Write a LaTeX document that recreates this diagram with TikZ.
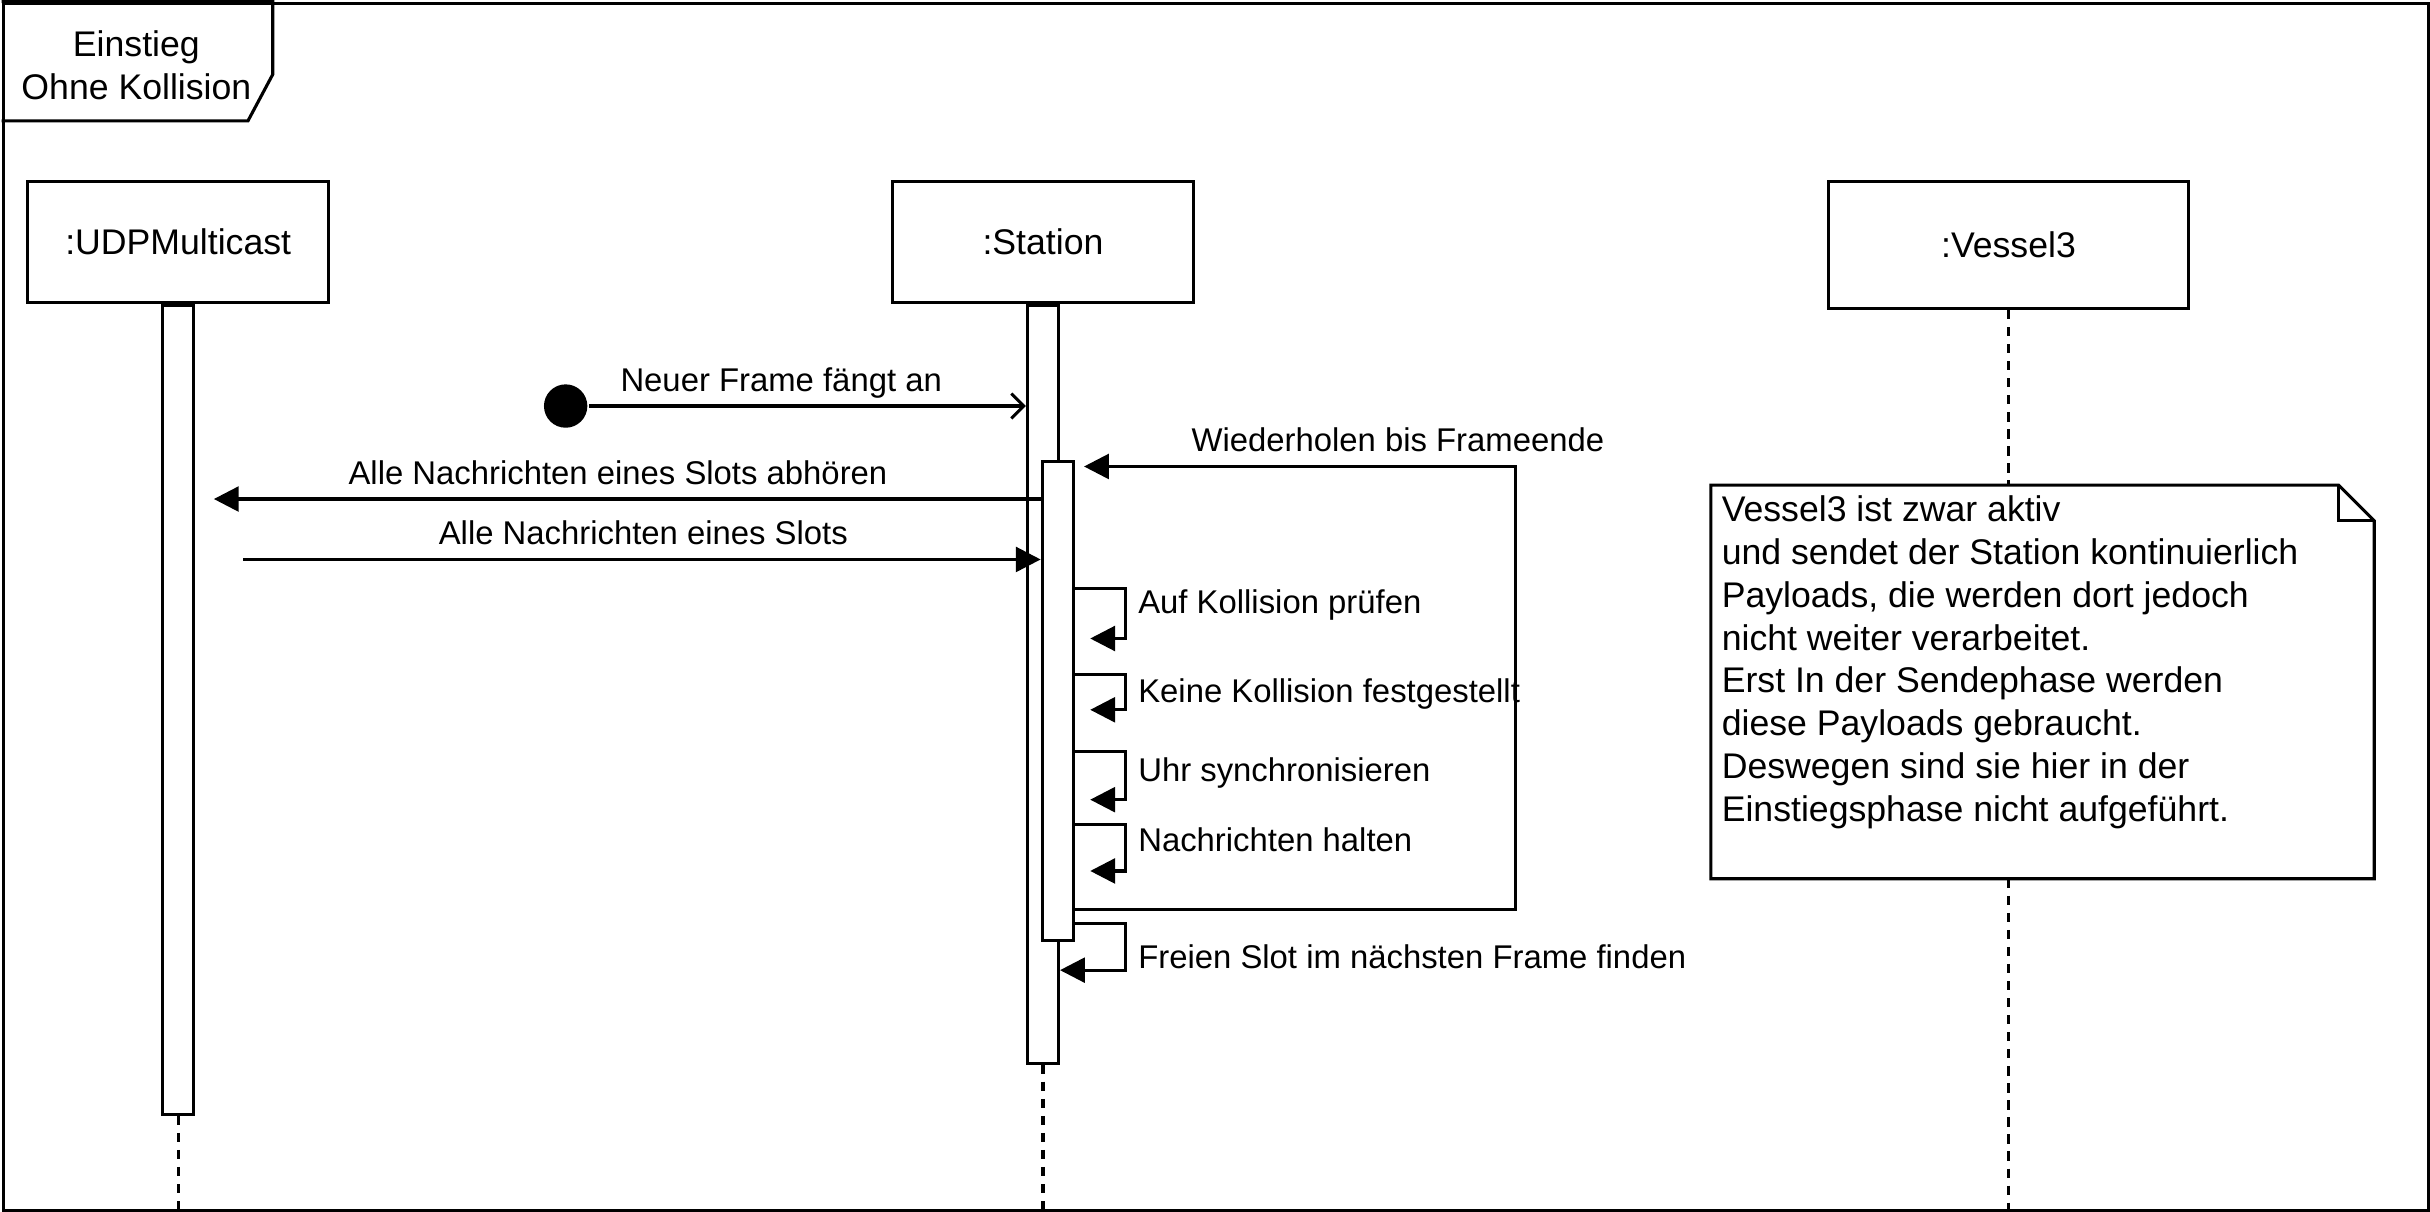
\documentclass[tikz,border=0pt]{standalone}
\usepackage{fontspec}
\setmainfont{Liberation Sans}
\usetikzlibrary{positioning,arrows.meta}

\begin{document}
\begin{tikzpicture}[x=1pt,y=-1pt,line width=2pt,
		font=\fontsize{23}{27.6}\selectfont,
		head/.style={draw, minimum width=194pt, minimum height=78pt, inner sep=0pt},
		bar/.style={draw, fill=white, minimum width=20pt, inner sep=0pt, anchor=north},
		lifeline/.style={dash pattern=on 6pt off 5pt},
		msg/.style={-{Triangle[length=16pt,width=16pt]}},
		lbl/.style={inner sep=0pt, text height=15pt, text depth=4.5pt,
				font=\fontsize{21.2}{25}\selectfont}]
		\useasboundingbox (0,0) rectangle (1568,782);

		% Frame
		\node[draw,
			minimum width=1565pt,
			minimum height=779pt,
			inner sep=0pt,
			anchor=north west
		] (frame) at (1,1) {};
		\draw (frame.north west) -| (176,48) -- (160,78) -- (frame.west |- 0,78);
		\node[align=center] (title) at (88,42) {Einstieg\\Ohne Kollision};

		% Lifelines
		\node[head] (udp) at (115,156) {:UDPMulticast};
		\node[head] (station) at (673,156) {:Station};
		\node[head,
			minimum width=232pt,
			minimum height=82pt
		] (vessel) at (1296,158) {:Vessel3};

		\node[bar, minimum height=522pt] (udpbar) at (udp.south) {};
		\node[bar, minimum height=489pt] (stbar) at (station.south) {};
		\node[bar, minimum height=309pt] (loopbar) at (682.5,297) {};

		\draw[lifeline] (udpbar.south) -- (udpbar.south |- frame.south);
		\draw[lifeline] (stbar.south) -- (stbar.south |- frame.south);

		% Note
		\node[minimum width=426pt,
			minimum height=252pt,
			anchor=north west
		] (note) at (1104,313) {};
		\draw[lifeline] (vessel.south) -- (vessel.south |- note.north);
		\draw[lifeline] (vessel.south |- note.south) -- (vessel.south |- frame.south);
		\draw[fill=white] (note.south west) -- (note.north west) -- ([xshift=-23pt]note.north east)
		-- ([yshift=-23pt]note.north east) -- (note.south east) -- cycle;
		\draw ([xshift=-23pt]note.north east) |- ([yshift=-23pt]note.north east);
		\node[align=left, inner sep=0pt, anchor=north west] (notetext)
		at ([xshift=6pt,yshift=-6pt]note.north west)
		{Vessel3 ist zwar aktiv\\und sendet der Station kontinuierlich\\Payloads, die werden dort jedoch\\nicht weiter verarbeitet.\\Erst In der Sendephase werden\\diese Payloads gebraucht.\\Deswegen sind sie hier in der\\Einstiegsphase nicht aufgeführt.};

		% Start
		\node[circle, fill, minimum size=28pt, inner sep=0pt] (start) at (365,262) {};
		\draw[-{Straight Barb[length=8pt,width=16pt]}] (start) -- (start -| stbar.west)
		node[lbl, pos=0.44, above=4pt]{Neuer Frame fängt an};

		% Messages
		\draw[msg, shorten >=12pt] (loopbar.west |- 0,322) -- (udpbar.east |- 0,322)
		node[lbl, midway, above=4pt]{Alle Nachrichten eines Slots abhören};
		\draw[msg, shorten <=31pt] (udpbar.east |- 0,361) -- (loopbar.west |- 0,361)
		node[lbl, pos=0.53, above=4pt]{Alle Nachrichten eines Slots};

		% Loop
		\coordinate (loopcorner) at (978,301);
		\draw[msg, shorten >=6pt] (loopbar.east |- 0,587) -| (loopcorner)
		node[lbl, above=4pt, xshift=-76pt]{Wiederholen bis Frameende}
		-- (loopbar.east |- loopcorner);

		% Self calls
		\foreach \ya/\yb/\dy/\txt in {380/412/10.7/Auf Kollision prüfen,
				435/458/12.9/Keine Kollision festgestellt,
				485/516/14/Uhr synchronisieren,
				532/562/12/Nachrichten halten}
			\draw[msg, shorten >=10pt] (loopbar.east |- 0,\ya) -- ++(33,0)
			node[lbl, right=7pt, yshift=-\dy pt]{\txt} |- (loopbar.east |- 0,\yb);

		\draw[msg] (loopbar.east |- 0,596) -- ++(33,0)
		node[lbl, right=7pt, yshift=-23.4pt]{Freien Slot im nächsten Frame finden}
		|- (stbar.east |- 0,626);
	\end{tikzpicture}
\end{document}
